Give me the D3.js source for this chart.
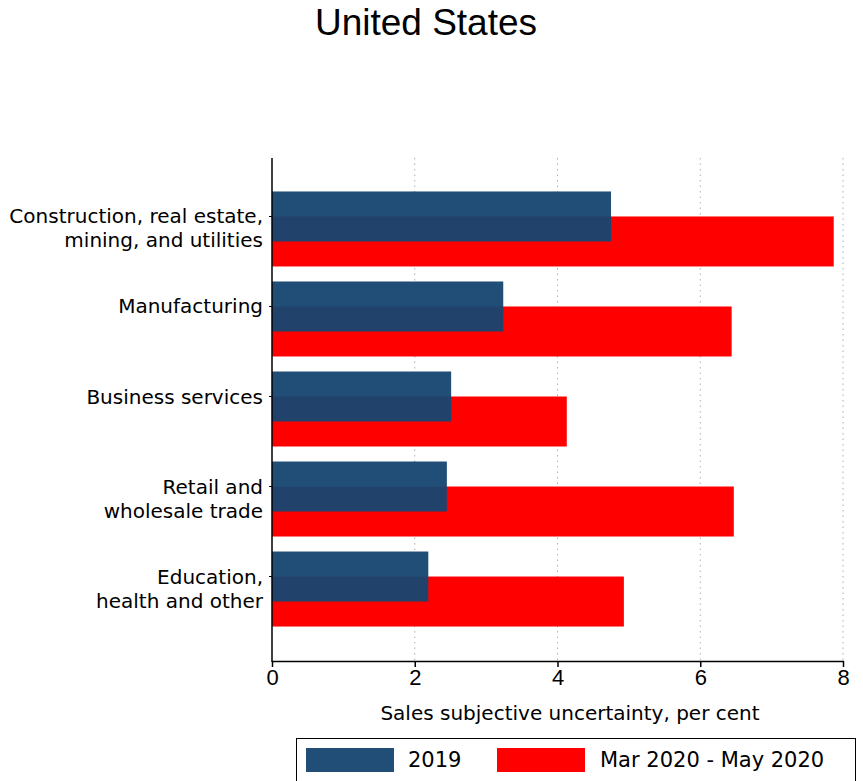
<!DOCTYPE html>
<html>
<head>
<meta charset="utf-8">
<script src="https://cdn.jsdelivr.net/npm/d3@7"></script>
<style>
  body { margin: 0; background: #fff; }
  svg { font-family: "DejaVu Sans", sans-serif; }
</style>
</head>
<body>
<svg id="chart" width="863" height="781"></svg>
<script>
const categories = [
  ["Construction, real estate,", "mining, and utilities"],
  ["Manufacturing"],
  ["Business services"],
  ["Retail and", "wholesale trade"],
  ["Education,", "health and other"]
];
const values2019 = [4.75, 3.24, 2.51, 2.45, 2.19];
const values2020 = [7.87, 6.44, 4.13, 6.47, 4.93];
const xTicks = [0, 2, 4, 6, 8];
const seriesNames = ["2019", "Mar 2020 - May 2020"];
const title = "United States";
const xTitle = "Sales subjective uncertainty, per cent";

(function () {
const svg = d3.select("#chart");
const pl = 272, pr = 843, pt = 158, pb = 661;
const labelFont = "'DejaVu Sans', sans-serif";

const x = d3.scaleLinear().domain([0, 8]).range([pl, pr]);
const keys = categories.map((c, i) => i);
const y = d3.scaleBand().domain(keys).range([pt, pb]).paddingInner(0).paddingOuter(0.294);
const step = y.step();
const center = i => y(i) + step / 2;

// title
svg.append("text").attr("x", 426).attr("y", 35).attr("text-anchor", "middle")
  .attr("font-family", "'Liberation Sans', Arial, sans-serif")
  .attr("font-size", 37).attr("fill", "#000").text(title);

// gridlines
svg.append("g").selectAll("line").data(xTicks.filter(t => t > 0)).join("line")
  .attr("x1", d => x(d)).attr("x2", d => x(d)).attr("y1", pt).attr("y2", pb)
  .attr("stroke", "#b0b0b0").attr("stroke-width", 1).attr("stroke-dasharray", "1.5,4");

// bars
const data = keys.map(i => ({ i, a: values2019[i], b: values2020[i] }));
svg.append("g").selectAll("rect").data(data).join("rect")
  .attr("x", x(0)).attr("y", d => center(d.i) - 13)
  .attr("width", d => x(d.b) - x(0)).attr("height", 50)
  .attr("fill", "#ff0000");
svg.append("g").selectAll("rect").data(data).join("rect")
  .attr("x", x(0)).attr("y", d => center(d.i) - 38)
  .attr("width", d => x(d.a) - x(0)).attr("height", 50)
  .attr("fill", "#174670").attr("fill-opacity", 0.955);

// x axis
const xAxis = d3.axisBottom(x).tickValues(xTicks).tickSize(6).tickPadding(2).tickFormat(d3.format("d"));
const gx = svg.append("g").attr("transform", `translate(0,${pb})`).call(xAxis);
gx.select(".domain").attr("stroke", "#000").attr("stroke-width", 1.5).attr("d", `M${pl},0.5H${pr + 1}`);
gx.selectAll(".tick line").attr("stroke", "#000").attr("stroke-width", 1.5);
gx.selectAll(".tick text").attr("font-size", 22).attr("fill", "#000")
  .attr("font-family", "'Liberation Sans', Arial, sans-serif");

// y axis
const gy = svg.append("g").attr("transform", `translate(${pl},0)`);
gy.append("line").attr("x1", 0).attr("x2", 0).attr("y1", pt).attr("y2", pb + 1)
  .attr("stroke", "#000").attr("stroke-width", 1.5);
gy.selectAll("line.tk").data(keys).join("line").attr("class", "tk")
  .attr("x1", -3).attr("x2", 0).attr("y1", d => center(d) - 13).attr("y2", d => center(d) - 13)
  .attr("stroke", "#000");
const lbl = gy.selectAll("text.lbl").data(keys).join("text").attr("class", "lbl")
  .attr("text-anchor", "end").attr("font-size", 20).attr("font-family", labelFont).attr("fill", "#000");
lbl.each(function(d) {
  const t = d3.select(this);
  categories[d].forEach((line, j) => {
    t.append("tspan").attr("x", -9).attr("y", center(d) - 13 + j * 24 + 7).text(line);
  });
});

// x title
svg.append("text").attr("x", 570).attr("y", 720).attr("text-anchor", "middle")
  .attr("font-family", labelFont)
  .attr("font-size", 20).attr("fill", "#000").text(xTitle);

// legend
const lg = svg.append("g");
lg.append("rect").attr("x", 296.5).attr("y", 738.5).attr("width", 559).attr("height", 50)
  .attr("fill", "#fff").attr("stroke", "#000").attr("stroke-width", 1);
const sw = [{ x: 306, c: "#174670", o: 0.955, tx: 408, t: seriesNames[0] },
            { x: 497, c: "#ff0000", o: 1, tx: 600, t: seriesNames[1] }];
sw.forEach(s => {
  lg.append("rect").attr("x", s.x).attr("y", 748).attr("width", 88).attr("height", 24)
    .attr("fill", s.c).attr("fill-opacity", s.o);
  lg.append("text").attr("x", s.tx).attr("y", 767).attr("font-family", labelFont)
    .attr("font-size", 21).attr("fill", "#000").text(s.t);
});
})();
</script>
</body>
</html>
